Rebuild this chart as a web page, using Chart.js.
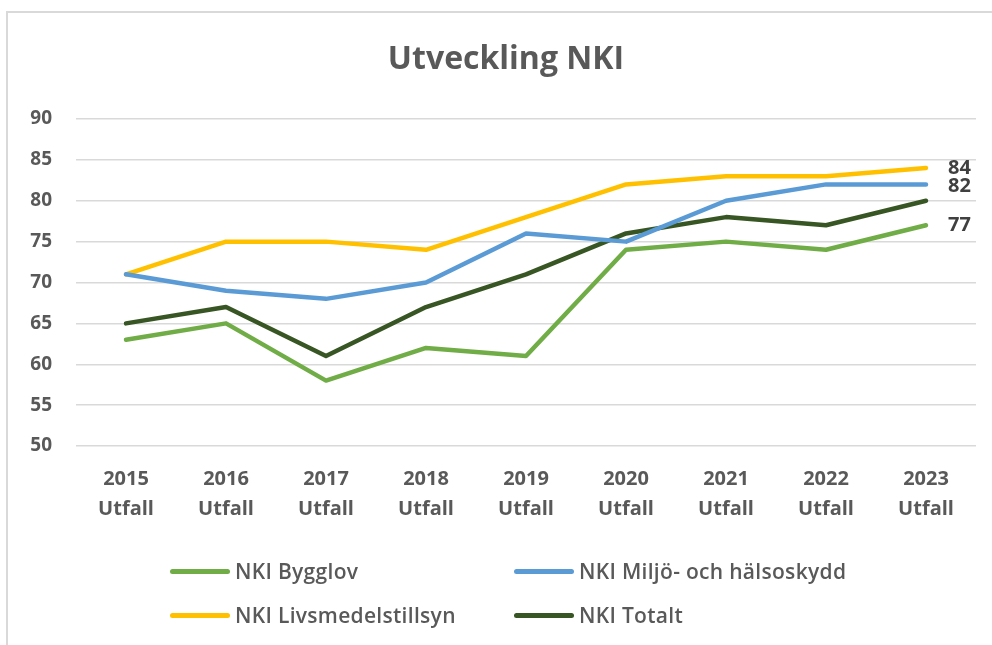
<!DOCTYPE html>
<html>
<head>
<meta charset="utf-8">
<script src="https://cdn.jsdelivr.net/npm/chart.js@4"></script>
<style>
  html, body { margin: 0; padding: 0; background: #fff; }
  #wrap { position: relative; width: 992px; height: 645px; overflow: hidden; }
  #frame { position: absolute; left: 6px; top: 11px; width: 1100px; height: 700px;
           border: 2px solid #d9d9d9; box-sizing: border-box; }
  #corps { position: absolute; left: 0; top: 0; width: 992px; height: 645px; }
  #legende { position: absolute; left: 0; top: 0; width: 992px; height: 645px; pointer-events: none;
             font-family: "Open Sans", sans-serif; font-size: 21px; font-weight: 600; color: #595959;
             letter-spacing: 0.3px; }
  .item { position: absolute; display: flex; align-items: center; height: 30px; white-space: nowrap; }
  .trait { width: 60px; height: 5px; border-radius: 3px; margin-right: 5px; }
</style>
</head>
<body>
<div id="wrap">
  <div id="frame"></div>
  <canvas id="corps" width="992" height="645"></canvas>
  <div id="legende"></div>
</div>
<script>
const annees = ['2015', '2016', '2017', '2018', '2019', '2020', '2021', '2022', '2023'];
const bygglov = [63, 65, 58, 62, 61, 74, 75, 74, 77];
const miljo = [71, 69, 68, 70, 76, 75, 80, 82, 82];
const livsmedel = [71, 75, 75, 74, 78, 82, 83, 83, 84];
const totalt = [65, 67, 61, 67, 71, 76, 78, 77, 80];
const yTicks = [50, 55, 60, 65, 70, 75, 80, 85, 90];
const titre = 'Utveckling NKI';

const gris = '#595959';

// titre dessiné à la main (un peu décalé à droite comme dans l'original)
const titrePlugin = {
  id: 'titrePlugin',
  beforeDraw(chart) {
    const ctx = chart.ctx;
    ctx.save();
    ctx.font = 'bold 32px "Open Sans", sans-serif';
    ctx.fillStyle = gris;
    ctx.textAlign = 'center';
    ctx.textBaseline = 'alphabetic';
    ctx.fillText(titre, 506, 69);
    ctx.restore();
  }
};

// etiquette en fin de ligne (84, 82, 77)
const finLigne = {
  id: 'finLigne',
  afterDatasetsDraw(chart) {
    const ctx = chart.ctx;
    ctx.save();
    ctx.font = 'bold 20px "Open Sans", sans-serif';
    ctx.fillStyle = '#404040';
    ctx.textAlign = 'left';
    ctx.textBaseline = 'middle';
    chart.data.datasets.forEach((ds, i) => {
      if (!ds.etiquette) return;
      const pts = chart.getDatasetMeta(i).data;
      const p = pts[pts.length - 1];
      ctx.fillText(String(ds.data[ds.data.length - 1]), p.x + 22, p.y + ds.decal);
    });
    ctx.restore();
  }
};

let canvas = document.getElementById('corps');
const ctx = canvas.getContext('2d');

const graphique = new Chart(ctx, {
  type: 'line',
  data: {
    labels: annees.map(a => [a, 'Utfall']),
    datasets: [
      { label: 'NKI Bygglov', data: bygglov, borderColor: '#70AD47', etiquette: true, decal: 0 },
      { label: 'NKI Miljö- och hälsoskydd', data: miljo, borderColor: '#5B9BD5', etiquette: true, decal: 2 },
      { label: 'NKI Livsmedelstillsyn', data: livsmedel, borderColor: '#FFC000', etiquette: true, decal: 0 },
      { label: 'NKI Totalt', data: totalt, borderColor: '#375623', etiquette: false, decal: 0 }
    ]
  },
  options: {
    responsive: false,
    animation: false,
    layout: { padding: { left: 0, right: 16, top: 119, bottom: 0 } },
    elements: {
      line: { borderWidth: 4.5, tension: 0, fill: false, borderCapStyle: 'round', borderJoinStyle: 'round' },
      point: { radius: 0, hoverRadius: 0 }
    },
    plugins: {
      legend: { display: false },
      tooltip: { enabled: false },
      title: { display: false }
    },
    scales: {
      x: {
        offset: true,
        grid: { display: false, drawTicks: false },
        border: { display: false },
        ticks: {
          color: gris,
          padding: 18,
          maxRotation: 0,
          autoSkip: false,
          font: { family: '"Open Sans", sans-serif', size: 20, weight: 'bold', lineHeight: 1.5 }
        },
        afterFit(scale) { scale.height = 199; }
      },
      y: {
        min: 50,
        max: 90,
        afterBuildTicks(scale) { scale.ticks = yTicks.map(v => ({ value: v })); },
        grid: { color: '#d9d9d9', lineWidth: 1.5, drawTicks: false },
        border: { display: false },
        ticks: {
          color: gris,
          padding: 24,
          font: { family: '"Open Sans", sans-serif', size: 19, weight: 'bold' }
        },
        afterFit(scale) { scale.width = 76; }
      }
    }
  },
  plugins: [titrePlugin, finLigne]
});

// légende en deux colonnes, comme dans l'original
const legende = document.getElementById('legende');
const places = [[170, 556], [514, 556], [170, 600], [514, 600]];
graphique.data.datasets.forEach((ds, k) => {
  const item = document.createElement('div');
  item.className = 'item';
  item.style.left = places[k][0] + 'px';
  item.style.top = places[k][1] + 'px';
  const trait = document.createElement('div');
  trait.className = 'trait';
  trait.style.background = ds.borderColor;
  const texte = document.createElement('span');
  texte.textContent = ds.label;
  item.appendChild(trait);
  item.appendChild(texte);
  legende.appendChild(item);
});
</script>
</body>
</html>
